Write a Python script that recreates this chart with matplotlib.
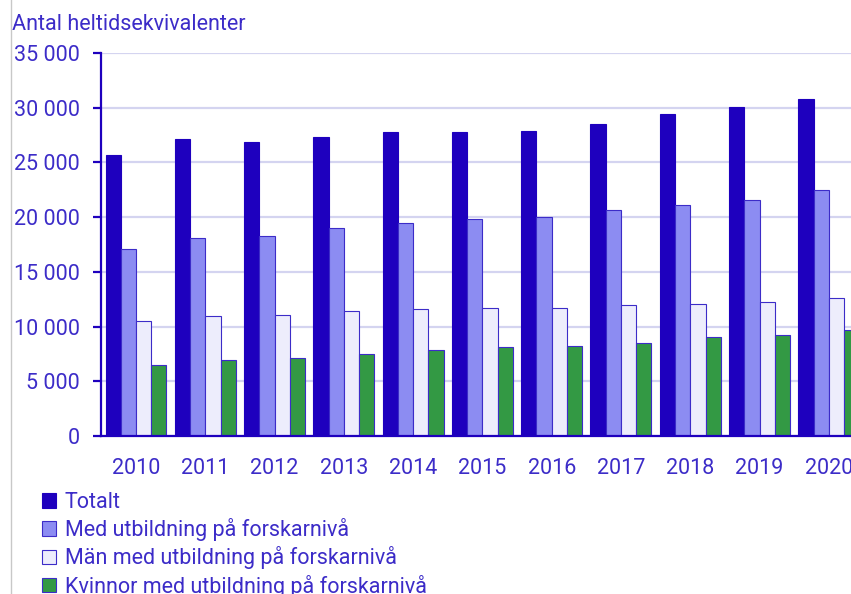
import matplotlib
matplotlib.use("Agg")
import matplotlib.pyplot as plt
import numpy as np
from matplotlib.patches import Patch
from matplotlib.lines import Line2D
from matplotlib.ticker import FuncFormatter

plt.rcParams['font.family'] = ['Roboto', 'DejaVu Sans']

years = ['2010', '2011', '2012', '2013', '2014', '2015', '2016', '2017', '2018', '2019', '2020']
totalt = [25700, 27100, 26900, 27300, 27800, 27800, 27900, 28500, 29450, 30050, 30800]
med = [17100, 18100, 18300, 19000, 19500, 19800, 20000, 20650, 21100, 21600, 22500]
man = [10500, 11000, 11100, 11400, 11600, 11700, 11700, 11950, 12050, 12200, 12650]
kvinnor = [6450, 6900, 7100, 7500, 7850, 8100, 8200, 8500, 9050, 9250, 9700]

series = [
    ("Totalt", totalt, "#1e00be"),
    ("Med utbildning på forskarnivå", med, "#8c8cf2"),
    ("Män med utbildning på forskarnivå", man, "#ededfc"),
    ("Kvinnor med utbildning på forskarnivå", kvinnor, "#339944"),
]

txt = "#3c2cc8"
dark = "#1e00be"
edge = "#3c2cc8"
fs = 15.5

fig = plt.figure(figsize=(8.51, 5.94), dpi=100)
ax = fig.add_axes([101/851, 1-436/594, 1-101/851, (436-53)/594])

x = np.arange(len(years))
w = 0.22
for i, (lab, vals, col) in enumerate(series):
    ax.bar(x + (i - 1.5) * w, vals, width=w, color=col,
           edgecolor=(dark if i == 0 else edge), linewidth=0.8, label=lab, zorder=3)

ax.set_xlim(-0.505, 10.32)
ax.set_ylim(0, 35000)
ax.set_yticks(np.arange(0, 35001, 5000))
ax.yaxis.set_major_formatter(FuncFormatter(lambda v, p: f"{int(v):,}".replace(",", " ")))
ax.set_xticks(x)
ax.set_xticklabels(years)

ax.grid(axis='y', color='#d4d4f0', linewidth=1.6, zorder=0)
for s in ['top', 'right']:
    ax.spines[s].set_visible(False)
for s in ['left', 'bottom']:
    ax.spines[s].set_color(dark)
    ax.spines[s].set_linewidth(1.6)
    ax.spines[s].set_zorder(4)
ax.tick_params(axis='y', colors=dark, labelcolor=txt, labelsize=fs, length=6, width=1.6, pad=9)
ax.tick_params(axis='x', length=0, labelcolor=txt, labelsize=fs, pad=16)

fig.text(12/851, 1-25/594, "Antal heltidsekvivalenter", color=txt, fontsize=fs,
         ha='left', va='center')

fig.add_artist(Line2D([11/851, 11/851], [0, 1], transform=fig.transFigure,
                      color='#c8c8c8', linewidth=1))

handles = [Patch(facecolor=c, edgecolor=(dark if i == 0 else edge), linewidth=0.8)
           for i, (_, _, c) in enumerate(series)]
leg = fig.legend(handles, [s[0] for s in series], loc='upper left',
                 bbox_to_anchor=(42/851, 1-492/594), frameon=False, fontsize=fs,
                 handlelength=0.65, handleheight=0.65, handletextpad=0.4,
                 labelspacing=0.24, borderaxespad=0, borderpad=0)
for t in leg.get_texts():
    t.set_color(txt)

fig.savefig("out.png", dpi=100)
